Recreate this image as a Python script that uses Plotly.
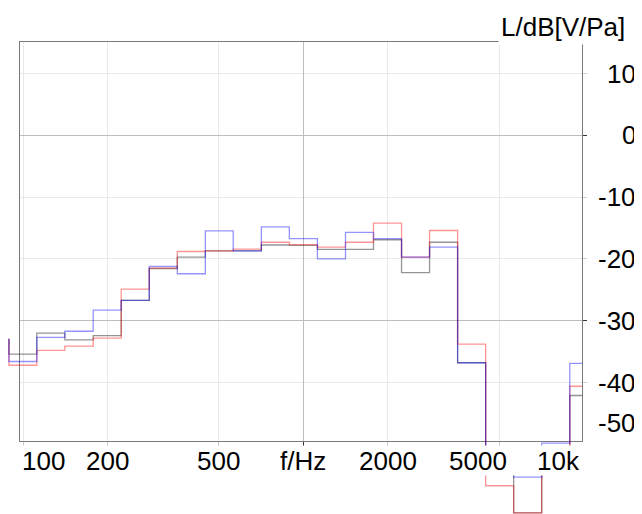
import math
import plotly.graph_objects as go

# ---------------- data ----------------
band_centres = [100, 125, 160, 200, 250, 315, 400, 500, 630, 800, 1000,
                1250, 1600, 2000, 2500, 3150, 4000, 5000, 6300, 8000, 10000]
band_edges = [89.1, 112, 141, 178, 224, 282, 355, 447, 562, 708, 891, 1122,
              1413, 1778, 2239, 2818, 3548, 4467, 5623, 7079, 8913, 11220]
start_level = -32.9

red_db = [-37.2, -34.8, -34.1, -32.8, -24.9, -21.5, -18.8, -18.7, -18.4, -17.3, -17.7,
          -18.1, -17.3, -14.2, -19.7, -15.4, -33.8, -56.7, -61.1, -53.0, -40.6]
blue_db = [-36.6, -32.7, -31.7, -28.3, -26.7, -21.2, -22.4, -15.45, -18.7, -14.8, -16.7,
           -20.0, -15.7, -16.7, -19.7, -18.1, -36.8, -53.0, -55.3, -49.8, -36.9]
black_db = [-35.4, -32.0, -33.1, -32.4, -26.7, -21.55, -19.7, -18.7, -18.7, -17.75, -17.8,
            -18.45, -18.45, -16.9, -22.2, -17.3, -36.8, -53.0, -61.1, -53.0, -42.1]

x_tick_vals = [100, 200, 500, 1000, 2000, 5000, 10000]
x_tick_text = ["100", "200", "500", "f/Hz", "2000", "5000", "10k"]
y_tick_vals = [10, 0, -10, -20, -30, -40, -50]
y_tick_text = ["10", "0", "-10", "-20", "-30", "-40", "-50"]
y_title = "L/dB[V/Pa]"

# ---------------- layout geometry ----------------
# the page body has an 8 px margin, so the figure starts at (8, 8)
OFF = 8
W, H = 642 - OFF, 514 - OFF
FL, FR, FT, FB = 20 - OFF, 582 - OFF, 42 - OFF, 441 - OFF   # frame in figure pixels
x_rng = [1.9893, 3.9936]                    # log10 range of the frame
y_rng = [-49.46, 15.1]
ppd = (FR - FL) / (x_rng[1] - x_rng[0])
ppdb = (FB - FT) / (y_rng[1] - y_rng[0])
x2_rng = [x_rng[0] - FL / ppd, x_rng[1]]
y2_rng = [y_rng[0] - (H - FB) / ppdb, y_rng[1] + FT / ppdb]

FONT = "Liberation Sans, Arial, sans-serif"
FS = 26

fig = go.Figure()
# empty trace to anchor the framed subplot
fig.add_trace(go.Scatter(x=[], y=[], xaxis="x", yaxis="y", showlegend=False,
                         hoverinfo="skip"))

series = [("black", black_db, "rgba(0,0,0,0.42)"),
          ("red", red_db, "rgba(255,0,0,0.42)"),
          ("blue", blue_db, "rgba(0,0,255,0.42)")]
for name, vals, col in series:
    fig.add_trace(go.Scatter(
        x=band_edges, y=[start_level] + vals, mode="lines", name=name,
        line=dict(color=col, width=1.3, shape="vh"),
        xaxis="x2", yaxis="y2", showlegend=False, hoverinfo="skip"))

dark_grid = "#bdbdbd"
light_grid = "#e9e9e9"
fig.update_layout(
    width=W, height=H, margin=dict(l=0, r=0, t=0, b=0),
    paper_bgcolor="white", plot_bgcolor="rgba(0,0,0,0)",
    showlegend=False,
    xaxis=dict(type="log", range=x_rng, domain=[FL / W, FR / W],
               tickmode="array", tickvals=[1000], showticklabels=False,
               ticks="outside", ticklen=4, tickcolor="#333",
               showgrid=True, gridcolor=dark_grid, gridwidth=1,
               minor=dict(tickvals=[100, 200, 500, 2000, 5000], ticks="outside",
                          ticklen=4, tickcolor="#cccccc", showgrid=True,
                          gridcolor=light_grid, gridwidth=1),
               showline=True, mirror=True, linecolor="#7a7a7a", linewidth=1,
               zeroline=False, fixedrange=True, anchor="y"),
    yaxis=dict(range=y_rng, domain=[(H - FB) / H, (H - FT) / H], side="right",
               tickmode="array", tickvals=[0, -30], showticklabels=False,
               ticks="outside", ticklen=4, tickcolor="#333",
               showgrid=True, gridcolor=dark_grid, gridwidth=1,
               minor=dict(tickvals=[10, -10, -20, -40], ticks="outside",
                          ticklen=4, tickcolor="#cccccc", showgrid=True,
                          gridcolor=light_grid, gridwidth=1),
               showline=True, mirror=True, linecolor="#7a7a7a", linewidth=1,
               zeroline=False, fixedrange=True, anchor="x"),
    xaxis2=dict(type="log", range=x2_rng, domain=[0, FR / W], visible=False,
                anchor="y2", fixedrange=True),
    yaxis2=dict(range=y2_rng, domain=[0, 1], visible=False, anchor="x2",
                fixedrange=True),
)

# white band behind the frequency labels (lines below the frame vanish there)
fig.add_shape(type="rect", xref="paper", yref="paper", x0=0, x1=1,
              y0=(H - (475.5 - OFF)) / H, y1=(H - (445.5 - OFF)) / H,
              fillcolor="white", line=dict(width=0), layer="above")

ann = []
x_shift = {5000: -21}
label_y = (H - (461 - OFF)) / H
for v, t in zip(x_tick_vals, x_tick_text):
    a = dict(text=t, showarrow=False, yref="paper", y=label_y, yanchor="middle",
             font=dict(family=FONT, size=FS, color="black"))
    if v == x_tick_vals[0]:
        a.update(xref="x domain", x=0, xanchor="left")
    elif v == x_tick_vals[-1]:
        a.update(xref="x domain", x=1, xanchor="right")
    else:
        a.update(xref="x", x=math.log10(v), xanchor="center",
                 xshift=x_shift.get(v, 0))
    ann.append(a)

for v, t in zip(y_tick_vals, y_tick_text):
    a = dict(text=t, showarrow=False, xref="paper", x=(638 - OFF) / W,
             xanchor="right", font=dict(family=FONT, size=FS, color="black"))
    if v == y_tick_vals[-1]:
        a.update(yref="y domain", y=0, yanchor="bottom", yshift=1)
    else:
        a.update(yref="y", y=v, yanchor="middle")
    ann.append(a)

ann.append(dict(text=y_title, showarrow=False, xref="paper", x=(627.5 - OFF) / W,
                xanchor="right", yref="paper", y=(H - (27 - OFF)) / H,
                yanchor="middle", bgcolor="white", borderpad=2,
                font=dict(family=FONT, size=FS, color="black")))
fig.update_layout(annotations=ann)

fig.write_html("out.html")
